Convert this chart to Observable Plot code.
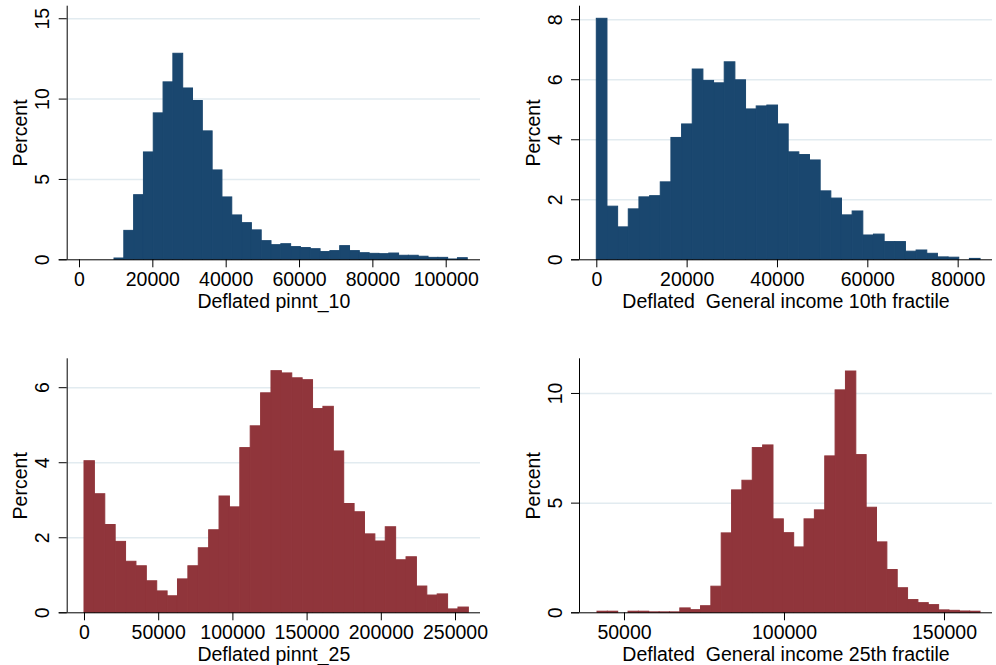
<!DOCTYPE html>
<html><head><meta charset="utf-8">
<script src="https://cdn.jsdelivr.net/npm/d3@7"></script>
<script src="https://cdn.jsdelivr.net/npm/@observablehq/plot@0.6"></script>
<style>
body{margin:0;background:#fff;}
#grid{display:grid;grid-template-columns:498px 498px;grid-template-rows:330px 335px;width:996px;height:665px;}
#grid svg{display:block;}
</style></head><body><div id="grid"></div>
<script>
const NAVY = "#1a476f", MAROON = "#90353b";

// Panel 1: Deflated pinnt_10
const p10Start = 9545, p10Width = 2676;
const p10Pct = [0.08, 1.80, 4.02, 6.68, 9.11, 11.04, 12.82, 10.66, 9.88, 7.99, 5.56, 3.88, 2.76, 2.28, 1.83, 1.16, 0.91, 0.97, 0.79, 0.73, 0.66, 0.48, 0.54, 0.85, 0.54, 0.41, 0.37, 0.35, 0.39, 0.25, 0.25, 0.19, 0.12, 0.12, 0.02, 0.10];
const p10XTicks = [0, 20000, 40000, 60000, 80000, 100000];
const p10YTicks = [0, 5, 10, 15];

// Panel 2: Deflated General income 10th fractile
const g10Start = 0, g10Width = 2360;
const g10Pct = [8.03, 1.77, 1.08, 1.68, 2.08, 2.12, 2.58, 4.06, 4.51, 6.34, 5.96, 5.88, 6.58, 5.98, 5.01, 5.11, 5.14, 4.51, 3.58, 3.49, 3.31, 2.28, 2.04, 1.48, 1.61, 0.81, 0.84, 0.59, 0.59, 0.27, 0.31, 0.20, 0.08, 0.07, 0, 0.03];
const g10XTicks = [0, 20000, 40000, 60000, 80000];
const g10YTicks = [0, 2, 4, 6, 8];

// Panel 3: Deflated pinnt_25
const p25Start = 0, p25Width = 7000;
const p25Pct = [4.04, 3.16, 2.34, 1.89, 1.36, 1.24, 0.84, 0.57, 0.44, 0.89, 1.24, 1.72, 2.20, 3.10, 2.81, 4.39, 4.97, 5.85, 6.44, 6.38, 6.25, 6.20, 5.43, 5.49, 4.30, 2.90, 2.68, 2.09, 1.90, 2.28, 1.40, 1.48, 0.70, 0.46, 0.49, 0.09, 0.14];
const p25XTicks = [0, 50000, 100000, 150000, 200000, 250000];
const p25YTicks = [0, 2, 4, 6];

// Panel 4: Deflated General income 25th fractile
const g25Start = 41562, g25Width = 3235;
const g25Pct = [0.05, 0.05, 0, 0.05, 0.05, 0.02, 0.02, 0.02, 0.20, 0.12, 0.30, 1.19, 3.62, 5.58, 6.02, 7.51, 7.63, 4.26, 3.63, 2.98, 4.26, 4.67, 7.13, 10.14, 11.00, 7.19, 4.79, 3.21, 1.95, 1.12, 0.58, 0.44, 0.35, 0.11, 0.09, 0.06, 0.05];
const g25XTicks = [50000, 100000, 150000];
const g25YTicks = [0, 5, 10];

const FONT = "'Liberation Sans', Arial, Helvetica, sans-serif";
const FS = 19.5;

function panel(c) {
  const bins = c.values.map((v, i) => ({x1: c.start + i * c.binWidth, x2: c.start + (i + 1) * c.binWidth, pct: v}));
  return Plot.plot({
    width: 498, height: c.height,
    marginLeft: c.ml, marginRight: c.mr, marginTop: c.mt, marginBottom: c.mb,
    style: {fontFamily: FONT, fontSize: FS + "px", background: "white", overflow: "visible"},
    x: {domain: c.xDomain, label: null},
    y: {domain: c.yDomain, label: null},
    marks: [
      Plot.ruleY(c.yTicks.filter(d => d > 0), {stroke: "#e2ebf0", strokeWidth: 1.5}),
      Plot.rectY(bins, {x1: "x1", x2: "x2", y: "pct", fill: c.color, stroke: c.color, strokeWidth: 1, inset: 0}),
      Plot.ruleY([0], {stroke: "black", strokeWidth: 1, insetLeft: -8}),
      Plot.ruleX([c.xDomain[0]], {stroke: "black", strokeWidth: 1}),
      Plot.axisX({ticks: c.xTicks, tickSize: 8, tickPadding: 4.4, tickFormat: d => String(d), label: null, fontSize: FS, fill: "black"}),
      Plot.axisY({ticks: c.yTicks, tickSize: 8, tickFormat: () => "", label: null}),
      Plot.text(c.yTicks, {y: d => d, text: d => String(d), frameAnchor: "left", dx: -17.7, rotate: -90, textAnchor: "middle", lineAnchor: "bottom", fontSize: FS, fill: "black"}),
      Plot.text(["Percent"], {text: d => d, frameAnchor: "left", dx: -39.7, rotate: -90, textAnchor: "middle", lineAnchor: "bottom", fontSize: FS, fill: "black"}),
      Plot.text([c.title], {text: d => d, frameAnchor: "bottom", dy: 48.3, textAnchor: "middle", lineAnchor: "bottom", fontSize: FS, fill: "black"})
    ]
  });
}

const grid = document.getElementById("grid");
grid.append(panel({height: 330, ml: 66.7, mr: 18, mt: 5.7, mb: 70.7, xDomain: [-3354, 109353], yDomain: [0, 15.78],
  start: p10Start, binWidth: p10Width, values: p10Pct, color: NAVY, xTicks: p10XTicks, yTicks: p10YTicks, title: "Deflated pinnt_10"}));
grid.append(panel({height: 330, ml: 81, mr: 4, mt: 5.7, mb: 70.7, xDomain: [-3830, 87602], yDomain: [0, 8.45],
  start: g10Start, binWidth: g10Width, values: g10Pct, color: NAVY, xTicks: g10XTicks, yTicks: g10YTicks, title: "Deflated\u00a0 General income 10th fractile"}));
grid.append(panel({height: 335, ml: 66.7, mr: 18, mt: 28.3, mb: 52.7, xDomain: [-11657, 266846], yDomain: [0, 6.77],
  start: p25Start, binWidth: p25Width, values: p25Pct, color: MAROON, xTicks: p25XTicks, yTicks: p25YTicks, title: "Deflated pinnt_25"}));
grid.append(panel({height: 335, ml: 81, mr: 4, mt: 28.3, mb: 52.7, xDomain: [35938, 165000], yDomain: [0, 11.58],
  start: g25Start, binWidth: g25Width, values: g25Pct, color: MAROON, xTicks: g25XTicks, yTicks: g25YTicks, title: "Deflated\u00a0 General income 25th fractile"}));
</script>
</body></html>
